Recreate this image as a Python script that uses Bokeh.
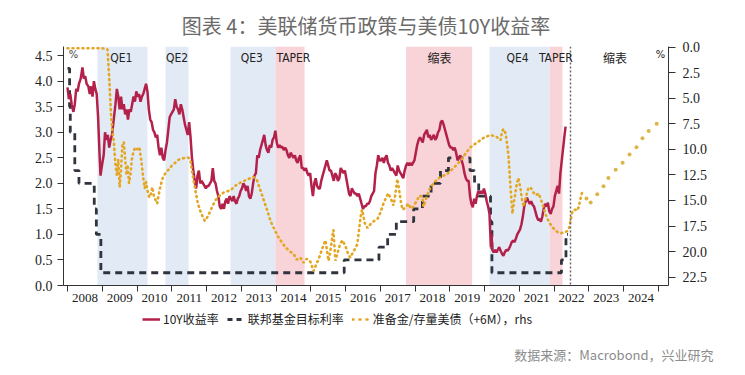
from bokeh.plotting import figure
from bokeh.layouts import column
from bokeh.models import (Range1d, LinearAxis, FixedTicker, BoxAnnotation, Span, Label,
                          Legend, LegendItem, PrintfTickFormatter, Title)
from bokeh.embed import file_html
from bokeh.resources import INLINE

# ---------------- data ----------------
years = list(range(2008, 2025))
year_labels = [str(y) for y in years]
left_ticks = [0.0, 0.5, 1.0, 1.5, 2.0, 2.5, 3.0, 3.5, 4.0, 4.5]
right_ticks = [0.0, 2.5, 5.0, 7.5, 10.0, 12.5, 15.0, 17.5, 20.0, 22.5]

yield_t = [2008.00, 2008.04, 2008.08, 2008.12, 2008.17, 2008.21, 2008.25, 2008.29, 2008.33, 2008.38,
           2008.43, 2008.47, 2008.51, 2008.55, 2008.60, 2008.64, 2008.68, 2008.72, 2008.76, 2008.80,
           2008.84, 2008.88, 2008.92, 2008.95, 2008.98, 2009.04, 2009.08, 2009.12, 2009.16, 2009.20,
           2009.24, 2009.28, 2009.33, 2009.38, 2009.42, 2009.46, 2009.50, 2009.54, 2009.58, 2009.62,
           2009.66, 2009.70, 2009.74, 2009.78, 2009.82, 2009.86, 2009.90, 2009.94, 2009.98, 2010.02,
           2010.06, 2010.10, 2010.14, 2010.18, 2010.22, 2010.26, 2010.30, 2010.34, 2010.38, 2010.42,
           2010.46, 2010.50, 2010.54, 2010.58, 2010.62, 2010.66, 2010.70, 2010.74, 2010.78, 2010.82,
           2010.86, 2010.90, 2010.94, 2010.98, 2011.02, 2011.06, 2011.10, 2011.14, 2011.18, 2011.22,
           2011.26, 2011.30, 2011.34, 2011.38, 2011.42, 2011.46, 2011.50, 2011.54, 2011.58, 2011.62,
           2011.66, 2011.70, 2011.74, 2011.78, 2011.82, 2011.86, 2011.90, 2011.94, 2011.98, 2012.02,
           2012.06, 2012.10, 2012.14, 2012.18, 2012.22, 2012.26, 2012.30, 2012.34, 2012.38, 2012.42,
           2012.46, 2012.50, 2012.54, 2012.58, 2012.62, 2012.66, 2012.70, 2012.74, 2012.78, 2012.82,
           2012.86, 2012.90, 2012.94, 2012.98, 2013.02, 2013.06, 2013.10, 2013.14, 2013.18, 2013.22,
           2013.26, 2013.30, 2013.34, 2013.38, 2013.42, 2013.46, 2013.50, 2013.54, 2013.58, 2013.62,
           2013.66, 2013.70, 2013.74, 2013.78, 2013.82, 2013.86, 2013.90, 2013.94, 2013.98, 2014.02,
           2014.06, 2014.10, 2014.14, 2014.18, 2014.22, 2014.26, 2014.30, 2014.34, 2014.38, 2014.42,
           2014.46, 2014.50, 2014.54, 2014.58, 2014.62, 2014.66, 2014.70, 2014.74, 2014.78, 2014.82,
           2014.86, 2014.90, 2014.94, 2014.98, 2015.02, 2015.06, 2015.10, 2015.14, 2015.18, 2015.22,
           2015.26, 2015.30, 2015.34, 2015.38, 2015.42, 2015.46, 2015.50, 2015.54, 2015.58, 2015.62,
           2015.66, 2015.70, 2015.74, 2015.78, 2015.82, 2015.86, 2015.90, 2015.94, 2015.98, 2016.02,
           2016.06, 2016.10, 2016.14, 2016.18, 2016.22, 2016.26, 2016.30, 2016.34, 2016.38, 2016.42,
           2016.46, 2016.50, 2016.54, 2016.58, 2016.62, 2016.66, 2016.70, 2016.74, 2016.78, 2016.82,
           2016.86, 2016.90, 2016.94, 2016.98, 2017.02, 2017.06, 2017.10, 2017.14, 2017.18, 2017.22,
           2017.26, 2017.30, 2017.34, 2017.38, 2017.42, 2017.46, 2017.50, 2017.54, 2017.58, 2017.62,
           2017.66, 2017.70, 2017.74, 2017.78, 2017.82, 2017.86, 2017.90, 2017.94, 2017.98, 2018.02,
           2018.06, 2018.10, 2018.14, 2018.18, 2018.22, 2018.26, 2018.30, 2018.34, 2018.38, 2018.42,
           2018.46, 2018.50, 2018.54, 2018.58, 2018.62, 2018.66, 2018.70, 2018.74, 2018.78, 2018.82,
           2018.86, 2018.90, 2018.94, 2018.98, 2019.02, 2019.06, 2019.10, 2019.14, 2019.18, 2019.22,
           2019.26, 2019.30, 2019.34, 2019.38, 2019.42, 2019.46, 2019.50, 2019.54, 2019.58, 2019.62,
           2019.66, 2019.70, 2019.74, 2019.78, 2019.82, 2019.86, 2019.90, 2019.94, 2019.98, 2020.02,
           2020.06, 2020.10, 2020.14, 2020.18, 2020.20, 2020.22, 2020.26, 2020.30, 2020.34, 2020.38,
           2020.42, 2020.46, 2020.50, 2020.54, 2020.58, 2020.62, 2020.66, 2020.70, 2020.74, 2020.78,
           2020.82, 2020.86, 2020.90, 2020.94, 2020.98, 2021.02, 2021.06, 2021.10, 2021.14, 2021.18,
           2021.22, 2021.26, 2021.30, 2021.34, 2021.38, 2021.42, 2021.46, 2021.50, 2021.54, 2021.58,
           2021.62, 2021.66, 2021.70, 2021.74, 2021.78, 2021.82, 2021.86, 2021.90, 2021.94, 2021.98,
           2022.02, 2022.06, 2022.10, 2022.14, 2022.18, 2022.22, 2022.26, 2022.30, 2022.33]
yield_v = [3.88, 3.65, 3.75, 3.55, 3.40, 3.55, 3.85, 3.80, 3.95, 4.05,
           4.27, 4.05, 4.10, 3.95, 3.90, 3.75, 3.90, 3.70, 4.00, 3.85,
           3.75, 3.30, 2.60, 2.15, 2.30, 2.55, 3.00, 2.85, 2.95, 2.70,
           2.85, 2.95, 3.25, 3.55, 3.85, 3.70, 3.45, 3.70, 3.45, 3.55,
           3.35, 3.45, 3.25, 3.45, 3.40, 3.55, 3.70, 3.60, 3.80, 3.70,
           3.75, 3.60, 3.70, 3.75, 3.85, 3.95, 3.80, 3.45, 3.25, 3.20,
           3.05, 3.00, 2.90, 2.95, 2.70, 2.55, 2.70, 2.50, 2.45, 2.65,
           2.80, 3.05, 3.30, 3.35, 3.40, 3.45, 3.65, 3.50, 3.45, 3.35,
           3.55, 3.45, 3.30, 3.15, 3.05, 2.95, 3.20, 2.90, 2.50, 2.25,
           2.05, 1.90, 2.15, 2.25, 2.00, 2.05, 2.00, 1.95, 1.90, 1.95,
           1.95, 2.00, 2.05, 2.30, 2.05, 2.00, 1.85, 1.75, 1.55, 1.50,
           1.60, 1.50, 1.65, 1.70, 1.60, 1.75, 1.70, 1.65, 1.75, 1.65,
           1.60, 1.70, 1.75, 1.85, 1.90, 2.00, 1.95, 1.85, 1.95, 1.75,
           1.70, 1.80, 2.00, 2.15, 2.20, 2.55, 2.50, 2.65, 2.75, 2.85,
           2.95, 2.75, 2.65, 2.60, 2.75, 2.70, 2.85, 2.90, 3.03, 2.80,
           2.70, 2.75, 2.70, 2.72, 2.65, 2.70, 2.65, 2.55, 2.50, 2.60,
           2.55, 2.50, 2.55, 2.45, 2.40, 2.50, 2.55, 2.30, 2.30, 2.25,
           2.30, 2.20, 2.15, 2.20, 1.95, 1.75, 2.00, 2.10, 1.95, 1.90,
           1.90, 2.05, 2.15, 2.25, 2.35, 2.45, 2.35, 2.25, 2.25, 2.15,
           2.05, 2.20, 2.15, 2.05, 2.10, 2.30, 2.25, 2.20, 2.25, 2.10,
           1.95, 1.80, 1.75, 1.90, 1.85, 1.80, 1.80, 1.75, 1.80, 1.70,
           1.60, 1.50, 1.55, 1.55, 1.60, 1.60, 1.65, 1.75, 1.80, 1.85,
           2.20, 2.35, 2.55, 2.45, 2.45, 2.50, 2.40, 2.50, 2.55, 2.40,
           2.35, 2.25, 2.30, 2.25, 2.20, 2.15, 2.35, 2.25, 2.20, 2.15,
           2.10, 2.25, 2.35, 2.40, 2.35, 2.40, 2.35, 2.40, 2.45, 2.60,
           2.75, 2.85, 2.90, 2.85, 2.80, 2.95, 3.00, 3.05, 2.90, 2.95,
           2.85, 2.90, 2.95, 2.85, 2.90, 3.00, 3.05, 3.20, 3.23, 3.15,
           3.05, 2.95, 2.85, 2.75, 2.70, 2.70, 2.65, 2.70, 2.60, 2.45,
           2.50, 2.55, 2.45, 2.35, 2.20, 2.10, 2.05, 2.05, 1.75, 1.60,
           1.53, 1.70, 1.60, 1.75, 1.85, 1.80, 1.85, 1.80, 1.90, 1.80,
           1.65, 1.55, 1.40, 0.75, 1.00, 0.70, 0.65, 0.70, 0.65, 0.70,
           0.75, 0.68, 0.62, 0.58, 0.65, 0.70, 0.68, 0.72, 0.78, 0.85,
           0.88, 0.85, 0.92, 1.00, 1.05, 1.10, 1.20, 1.35, 1.55, 1.65,
           1.72, 1.65, 1.60, 1.65, 1.58, 1.55, 1.45, 1.35, 1.28, 1.30,
           1.25, 1.35, 1.50, 1.60, 1.55, 1.62, 1.45, 1.40, 1.50, 1.55,
           1.75, 1.85, 1.95, 1.80, 2.20, 2.45, 2.70, 2.95, 3.11]

fed_t = [2008.00, 2008.06, 2008.08, 2008.21, 2008.33, 2008.77, 2008.83, 2008.96, 2015.96, 2016.96,
         2017.21, 2017.46, 2017.96, 2018.21, 2018.46, 2018.73, 2018.96, 2019.58, 2019.71, 2019.83,
         2020.17, 2020.21, 2022.21, 2022.34, 2022.40]
fed_v = [4.25, 3.50, 3.00, 2.25, 2.00, 1.50, 1.00, 0.25, 0.50, 0.75,
         1.00, 1.25, 1.50, 1.75, 2.00, 2.25, 2.50, 2.25, 2.00, 1.75,
         1.25, 0.25, 0.50, 1.00, 1.00]

res_t = [2008.00, 2008.30, 2008.60, 2009.00, 2009.15, 2009.20, 2009.25, 2009.30, 2009.33, 2009.38,
         2009.42, 2009.46, 2009.50, 2009.54, 2009.58, 2009.62, 2009.66, 2009.70, 2009.73, 2009.77,
         2009.81, 2009.85, 2009.90, 2009.95, 2010.00, 2010.07, 2010.12, 2010.18, 2010.22, 2010.26,
         2010.30, 2010.35, 2010.39, 2010.44, 2010.48, 2010.54, 2010.58, 2010.62, 2010.68, 2010.74,
         2010.82, 2010.90, 2011.00, 2011.10, 2011.20, 2011.30, 2011.40, 2011.48, 2011.54, 2011.60,
         2011.68, 2011.75, 2011.85, 2011.95, 2012.05, 2012.15, 2012.25, 2012.35, 2012.50, 2012.69,
         2012.85, 2013.00, 2013.20, 2013.35, 2013.45, 2013.55, 2013.65, 2013.75, 2013.84, 2013.95,
         2014.05, 2014.13, 2014.25, 2014.40, 2014.50, 2014.60, 2014.70, 2014.79, 2014.88, 2014.99,
         2015.08, 2015.15, 2015.22, 2015.28, 2015.35, 2015.42, 2015.47, 2015.51, 2015.56, 2015.62,
         2015.65, 2015.68, 2015.71, 2015.78, 2015.85, 2015.91, 2016.00, 2016.08, 2016.14, 2016.22,
         2016.30, 2016.34, 2016.40, 2016.45, 2016.48, 2016.55, 2016.63, 2016.72, 2016.82, 2016.92,
         2017.00, 2017.10, 2017.18, 2017.23, 2017.30, 2017.38, 2017.44, 2017.49, 2017.55, 2017.60,
         2017.64, 2017.72, 2017.80, 2017.88, 2017.95, 2018.05, 2018.13, 2018.21, 2018.24, 2018.32,
         2018.40, 2018.53, 2018.65, 2018.80, 2018.93, 2019.05, 2019.20, 2019.31, 2019.45, 2019.59,
         2019.75, 2019.88, 2020.00, 2020.17, 2020.30, 2020.40, 2020.46, 2020.50, 2020.54, 2020.60,
         2020.65, 2020.69, 2020.74, 2020.80, 2020.85, 2020.92, 2020.97, 2021.03, 2021.08, 2021.12,
         2021.20, 2021.26, 2021.32, 2021.40, 2021.48, 2021.55, 2021.60, 2021.68, 2021.76, 2021.84,
         2021.92, 2022.00, 2022.10, 2022.20, 2022.30, 2022.38, 2022.44, 2022.47, 2022.53, 2022.60,
         2022.66, 2022.70, 2022.76, 2022.82]
res_v = [0.1, 0.1, 0.1, 0.1, 0.2, 3.0, 6.5, 8.5, 9.1, 11.5,
         12.5, 11.0, 13.7, 12.0, 9.5, 9.3, 11.0, 12.5, 11.5, 13.3,
         12.5, 11.0, 10.2, 9.8, 10.0, 9.8, 11.0, 12.8, 13.8, 13.2,
         14.0, 14.7, 14.5, 13.7, 14.5, 15.0, 15.3, 14.5, 13.5, 12.8,
         12.3, 12.0, 11.6, 11.3, 11.0, 10.9, 10.8, 10.8, 11.2, 12.5,
         14.0, 15.3, 16.3, 17.0, 16.5, 15.7, 15.0, 14.6, 14.2, 14.0,
         13.5, 13.2, 12.9, 12.7, 13.0, 14.0, 15.0, 16.0, 17.0, 17.8,
         18.5, 18.9, 19.5, 20.0, 20.2, 20.8, 20.6, 21.1, 20.7, 21.0,
         21.9, 21.3, 20.8, 20.2, 19.5, 18.9, 20.0, 20.9, 20.0, 18.5,
         17.9, 19.5, 20.9, 20.0, 19.2, 18.9, 19.5, 20.3, 20.6, 20.0,
         19.6, 19.2, 17.5, 16.2, 15.9, 17.2, 17.7, 17.3, 17.0, 16.8,
         16.2, 15.2, 14.6, 14.3, 14.8, 15.5, 14.2, 12.9, 14.2, 15.3,
         15.9, 15.7, 15.3, 15.8, 15.6, 15.0, 14.5, 14.7, 15.6, 14.8,
         14.0, 13.3, 12.9, 12.6, 12.4, 12.0, 11.5, 11.1, 10.4, 9.8,
         9.4, 9.1, 8.8, 8.6, 8.7, 8.9, 9.1, 8.3, 8.0, 8.4,
         9.5, 10.8, 13.5, 16.3, 15.0, 13.5, 12.8, 13.8, 15.0, 15.6,
         14.5, 13.8, 13.7, 14.2, 14.5, 14.3, 14.7, 15.5, 16.4, 17.0,
         17.5, 17.8, 18.1, 18.2, 18.1, 18.0, 17.6, 17.0, 16.0, 15.9,
         16.0, 15.7, 14.8, 14.0]

proj_t = [2022.93, 2023.05, 2023.24, 2023.42, 2023.56, 2023.77, 2023.97, 2024.17, 2024.37, 2024.54,
          2024.72, 2024.95]
proj_v = [14.8, 15.2, 14.4, 13.6, 12.8, 12.0, 11.3, 10.5, 9.8, 8.9,
          8.2, 7.5]

band_names = ["QE1", "QE2", "QE3", "TAPER", "缩表", "QE4", "TAPER"]
band_start = [2008.86, 2010.82, 2012.69, 2013.98, 2017.74, 2020.14, 2021.87]
band_end = [2010.30, 2011.48, 2013.98, 2014.82, 2019.64, 2021.87, 2022.24]
band_kind = ["qe", "qe", "qe", "tight", "tight", "qe", "tight"]
band_label_x = [2009.55, 2011.15, 2013.3, 2014.5, 2018.7, 2020.95, 2022.05]
tightening_label = "缩表"
tightening_label_x = 2023.75
policy_line_x = 2022.47

title_text = "图表 4：美联储货币政策与美债10Y收益率"
source_text = "数据来源：Macrobond，兴业研究"
legend_labels = ["10Y收益率", "联邦基金目标利率", "准备金/存量美债（+6M），rhs"]

# ---------------- styles ----------------
CJK = "Noto Sans CJK SC"
SERIF = "Liberation Serif"
NARROW = "Liberation Sans Narrow, DejaVu Sans Condensed, DejaVu Sans"
RED = "#b3214a"
DARK = "#2f343e"
GOLD = "#e3a724"

# ---------------- main figure ----------------
p = figure(width=745, height=308, output_backend="svg", toolbar_location=None,
           x_range=Range1d(2007.885, 2025.29), y_range=Range1d(0, 4.68),
           min_border_left=63, min_border_right=77, min_border_top=46, min_border_bottom=23,
           outline_line_color=None, background_fill_color="white", border_fill_color="white")
p.extra_y_ranges = {"rhs": Range1d(23.32, -0.07)}
p.xgrid.visible = False
p.ygrid.visible = False

p.add_layout(Title(text=title_text, align="center", text_font=CJK, text_font_size="20px",
                   text_color="#6b6b6b", text_font_style="normal", offset=6, standoff=14),
             "above")

colors = {"qe": "#e2ebf5", "tight": "#f8d3d8"}
for s, e, k in zip(band_start, band_end, band_kind):
    p.add_layout(BoxAnnotation(left=s, right=e, fill_color=colors[k], fill_alpha=1.0,
                               line_color=None, level="underlay"))

xa = p.xaxis[0]
xa.ticker = FixedTicker(ticks=[y + 0.5 for y in years], minor_ticks=list(range(2008, 2026)))
xa.major_label_overrides = {y + 0.5: lab for y, lab in zip(years, year_labels)}
xa.major_tick_line_color = None
xa.major_tick_out = 5
xa.major_tick_in = 0
xa.minor_tick_out = 6
xa.minor_tick_in = 0
xa.minor_tick_line_color = "#333333"
xa.axis_line_color = "#333333"
xa.major_label_standoff = 2
xa.major_label_text_font = SERIF
xa.major_label_text_font_size = "13px"
xa.major_label_text_color = "#222222"

ya = p.yaxis[0]
ya.ticker = FixedTicker(ticks=left_ticks)
ya.formatter = PrintfTickFormatter(format="%.1f")
ya.major_tick_out = 6
ya.major_tick_in = 0
ya.minor_tick_line_color = None
ya.axis_line_color = "#333333"
ya.major_tick_line_color = "#333333"
ya.major_label_standoff = 5
ya.major_label_text_font = SERIF
ya.major_label_text_font_size = "14px"
ya.major_label_text_color = "#222222"

ra = LinearAxis(y_range_name="rhs", ticker=FixedTicker(ticks=right_ticks),
                formatter=PrintfTickFormatter(format="%.1f"))
ra.major_tick_out = 7
ra.major_tick_in = 0
ra.minor_tick_line_color = None
ra.axis_line_color = "#333333"
ra.major_tick_line_color = "#333333"
ra.major_label_standoff = 7
ra.major_label_text_font = SERIF
ra.major_label_text_font_size = "14px"
ra.major_label_text_color = "#222222"
p.add_layout(ra, "right")

p.step(fed_t, fed_v, mode="after", line_color=DARK, line_width=2.8, line_dash="7 5")
p.line(yield_t, yield_v, line_color=RED, line_width=2.5)
p.line(res_t, res_v, y_range_name="rhs", line_color=GOLD, line_width=2.6,
       line_dash="1 4", line_cap="round")
p.scatter(proj_t, proj_v, y_range_name="rhs", size=4, fill_color="#dcb548", line_color=None)

p.add_layout(Span(location=policy_line_x, dimension="height", line_color="#666666",
                  line_dash="2 2", line_width=1.5))

for name, x in zip(band_names, band_label_x):
    font = CJK if name == "缩表" else NARROW
    p.add_layout(Label(x=x, y=4.46, text=name, text_align="center", text_baseline="middle",
                       text_font=font, text_font_size="12px", text_color="#222222"))
p.add_layout(Label(x=tightening_label_x, y=4.46, text=tightening_label, text_align="center",
                   text_baseline="middle", text_font=CJK, text_font_size="12px",
                   text_color="#222222"))
p.add_layout(Label(x=2025.06, y=4.52, text="%", text_align="center", text_baseline="middle",
                   text_font=NARROW, text_font_size="11px", text_color="#222222"))
p.add_layout(Label(x=2008.17, y=4.52, text="%", text_align="center", text_baseline="middle",
                   text_font=NARROW, text_font_size="11px", text_color="#444444"))

# ---------------- bottom strip: legend + source ----------------
# (its frame is aligned with the main frame by the column layout)
q = figure(width=745, height=67, output_backend="svg", toolbar_location=None,
           x_range=Range1d(0, 1), y_range=Range1d(0, 1),
           x_axis_type=None, y_axis_type=None,
           min_border_left=63, min_border_right=77, min_border_top=0, min_border_bottom=32,
           outline_line_color=None, background_fill_color="white", border_fill_color="white")
q.xgrid.visible = False
q.ygrid.visible = False

# legend proxies: drawn outside the visible range, only their styles are used
l1 = q.line([-5, -4], [-5, -4], line_color=RED, line_width=2.5)
l2 = q.line([-5, -4], [-5, -4], line_color=DARK, line_width=2.8, line_dash="5 4")
l3 = q.line([-5, -4], [-5, -4], line_color=GOLD, line_width=2.6, line_dash="1 6",
            line_cap="round")

legend = Legend(items=[LegendItem(label=legend_labels[0], renderers=[l1]),
                       LegendItem(label=legend_labels[1], renderers=[l2]),
                       LegendItem(label=legend_labels[2], renderers=[l3])],
                location=(79, 16), orientation="horizontal",
                label_text_font=CJK, label_text_font_size="12px", label_text_color="#222222",
                border_line_color=None, background_fill_alpha=0.0,
                glyph_width=18, glyph_height=12, label_standoff=3, spacing=8,
                padding=0, margin=0, label_height=14)
q.add_layout(legend)

q.add_layout(Title(text=source_text, align="right", vertical_align="top", text_font=CJK,
                   text_font_size="13px", text_color="#8c8c8c", text_font_style="normal",
                   offset=-45, standoff=2),
             "below")

layout = column(p, q, spacing=0)
open("out.html", "w").write(file_html(layout, INLINE))
